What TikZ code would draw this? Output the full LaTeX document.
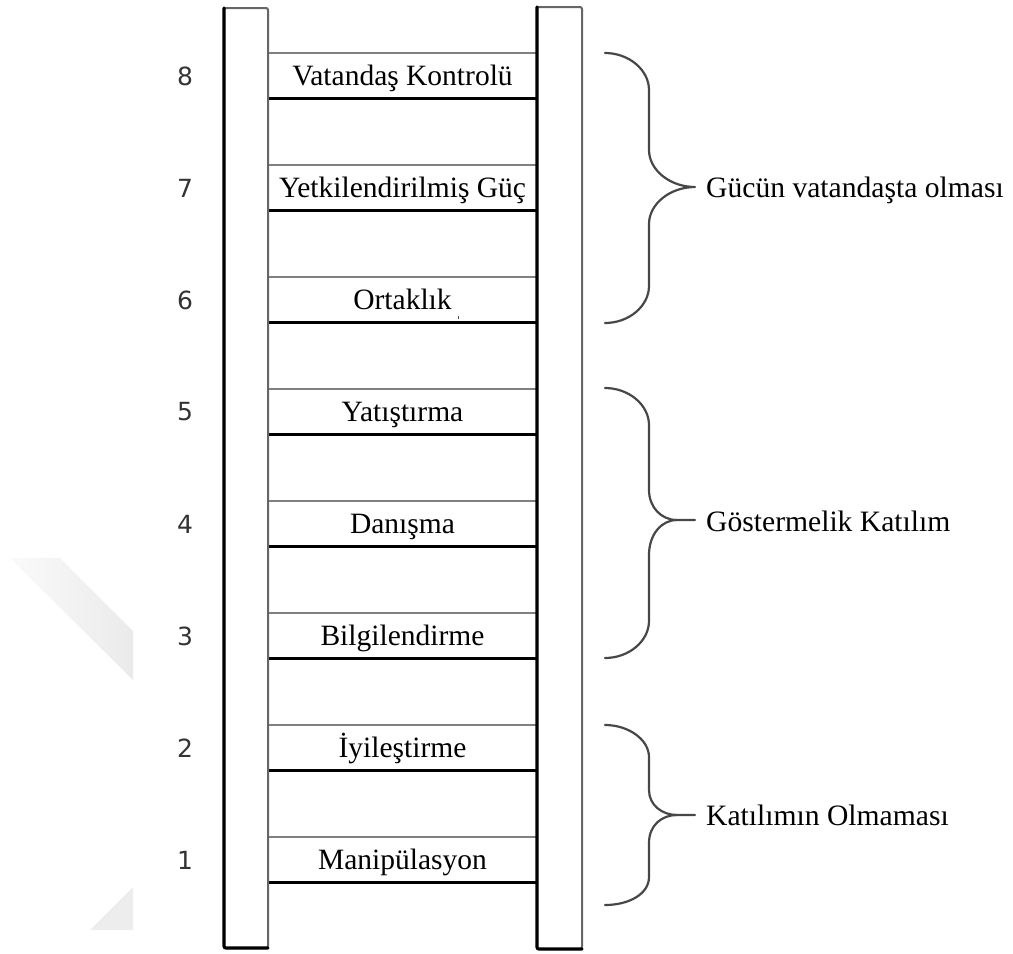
\documentclass[tikz,border=0pt]{standalone}
\usepackage{fontspec}
\setmainfont{Liberation Serif}
\newfontfamily\numfont{DejaVu Sans}
\begin{document}
\begin{tikzpicture}[x=1pt, y=-1pt,
  railedge/.style={line width=2pt, draw=black!60, rounded corners=2pt},
  railheavy/.style={line width=3.2pt, draw=black, line cap=round, rounded corners=2pt},
  rungtop/.style={line width=2.2pt, draw=black!50},
  rungbot/.style={line width=3pt, draw=black},
  brace/.style={line width=2.2pt, draw=black!72, line cap=round, line join=round},
  rungtext/.style={font=\fontsize{29.5}{32}\selectfont, inner sep=0pt, anchor=base},
  grouptext/.style={font=\fontsize{29.6}{32}\selectfont, inner sep=0pt, anchor=base west},
  numtext/.style={font=\numfont\fontsize{25}{28}\selectfont, text=black!80, inner sep=0pt},
]
\useasboundingbox (0,0) rectangle (1013,954);

% faint background marks
\shade[left color=black!2, right color=black!8] (10,558) -- (60,558) -- (133,631) -- (133,680) -- cycle;
\fill[black!7] (133,887) -- (133,930) -- (90,930) -- cycle;

% rungs with their labels and step numbers
\foreach \i/\lab in {8/Vatandaş Kontrolü, 7/Yetkilendirilmiş Güç, 6/Ortaklık,
                     5/Yatıştırma, 4/Danışma, 3/Bilgilendirme,
                     2/İyileştirme, 1/Manipülasyon}{
  \pgfmathsetmacro\t{53+(8-\i)*112}
  \pgfmathsetmacro\b{\t+45}
  \pgfmathsetmacro\tb{\t+32.5}
  \pgfmathsetmacro\nm{\t+23}
  \draw[rungtop] (268,\t) -- (537,\t);
  \draw[rungbot] (268,\b) -- (537,\b);
  \node[rungtext] (rung\i) at (402.5,\tb) {\lab};
  \node[numtext] (num\i) at (185,\nm) {\i};
}
% small mark under the sixth rung text
\draw[line width=1pt, black!70] (458,316) -- (458,319);

% rails
\draw[railedge] (224,8) rectangle (268,948);
\draw[railheavy] (224,8) -- (224,948) -- (268,948);
\draw[railedge] (537,7) rectangle (582,949);
\draw[railheavy] (537,7) -- (537,949) -- (582,949);

% braces
\draw[brace] (605,53) .. controls (629,53) and (649,70) .. (649,90) -- (649,150)
  .. controls (649,170) and (670,187) .. (695,187)
  .. controls (670,187) and (649,204) .. (649,224) -- (649,286)
  .. controls (649,306) and (629,323) .. (605,323);
\draw[brace] (605,388) .. controls (629,388) and (649,405) .. (649,425) -- (649,490)
  .. controls (649,507) and (661,520) .. (677,520) -- (695,520);
\draw[brace] (677,520) .. controls (661,520) and (649,535) .. (649,555) -- (649,621)
  .. controls (649,641) and (629,658) .. (605,658);
\draw[brace] (605,725) .. controls (629,725) and (649,740) .. (649,757) -- (649,790)
  .. controls (649,805) and (662,815) .. (677,815) -- (695,815);
\draw[brace] (677,815) .. controls (662,815) and (649,825) .. (649,843) -- (649,877)
  .. controls (649,894) and (629,905) .. (605,905);

% group labels
\node[grouptext] (group1) at (706,197) {Gücün vatandaşta olması};
\node[grouptext] (group2) at (706,531) {Göstermelik Katılım};
\node[grouptext] (group3) at (706,825) {Katılımın Olmaması};
\end{tikzpicture}
\end{document}
